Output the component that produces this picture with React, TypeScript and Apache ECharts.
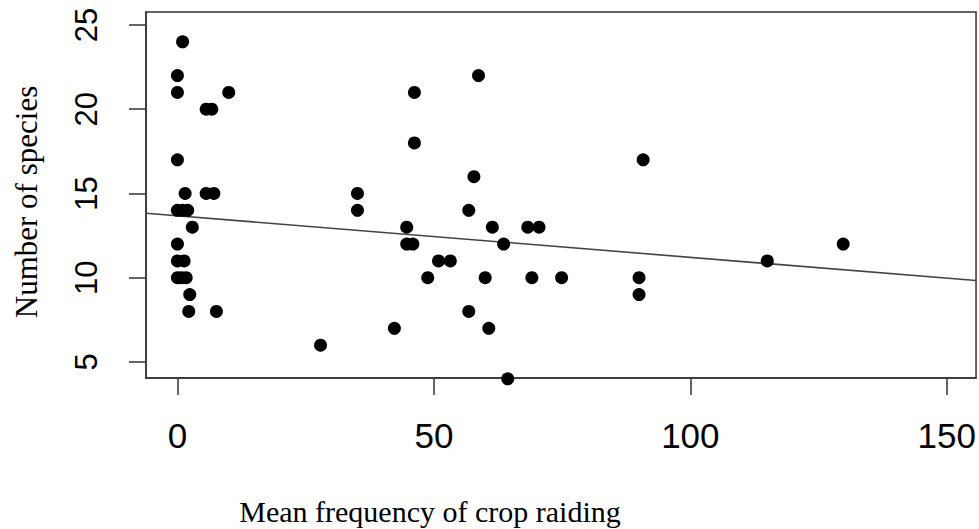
import React, { useEffect, useRef } from "react";
import * as echarts from "echarts";

// Scatter data: mean frequency of crop raiding (x) vs number of species (y)
const raidFreq: number[] = [
  1, 0, 0, 10, 5.6, 6.7, 0, 1.5, 5.6, 7.1,
  0, 1, 2, 2.9, 0, 0, 1.3, 0, 0.8, 1.7,
  2.4, 2.2, 7.6, 27.9, 58.7, 46.2, 46.2, 90.8, 57.8, 35.1,
  35.1, 56.8, 44.7, 61.4, 68.3, 70.5, 44.7, 45.9, 63.6, 50.9,
  53.2, 48.8, 60.0, 69.1, 74.9, 90.0, 90.0, 56.8, 42.3, 60.7,
  64.4, 115.0, 129.8,
];
const speciesCount: number[] = [
  24, 22, 21, 21, 20, 20, 17, 15, 15, 15,
  14, 14, 14, 13, 12, 11, 11, 10, 10, 10,
  9, 8, 8, 6, 22, 21, 18, 17, 16, 15,
  14, 14, 13, 13, 13, 13, 12, 12, 12, 11,
  11, 10, 10, 10, 10, 10, 9, 8, 7, 7,
  4, 11, 12,
];

// Fitted regression line
const FIT_INTERCEPT = 13.68;
const FIT_SLOPE = -0.0247;

const xTicks: number[] = [0, 50, 100, 150];
const yTicks: number[] = [5, 10, 15, 20, 25];

const X_MIN = -6.13;
const X_MAX = 155.7;
const Y_MIN = 4.05;
const Y_MAX = 25.77;

const xTitle = "Mean frequency of crop raiding";
const yTitle = "Number of species";

export default function App() {
  const ref = useRef<HTMLDivElement>(null);

  useEffect(() => {
    if (!ref.current) return;
    const chart = echarts.init(ref.current, undefined, { renderer: "svg" });
    const points = raidFreq.map((x, i) => [x, speciesCount[i]]);
    const fitLine = [
      [X_MIN, FIT_INTERCEPT + FIT_SLOPE * X_MIN],
      [X_MAX, FIT_INTERCEPT + FIT_SLOPE * X_MAX],
    ];
    const axisColor = "#333";
    chart.setOption({
      animation: false,
      backgroundColor: "#fff",
      grid: {
        left: 146,
        top: 12,
        right: 1.3,
        bottom: 151,
        show: true,
        borderColor: axisColor,
        borderWidth: 1.5,
        backgroundColor: "transparent",
      },
      xAxis: {
        type: "value",
        min: X_MIN,
        max: X_MAX,
        splitLine: { show: false },
        axisLine: { show: true, onZero: false, lineStyle: { color: axisColor, width: 1.5 } },
        axisTick: {
          show: true,
          length: 17,
          customValues: xTicks,
          lineStyle: { color: axisColor, width: 1.5 },
        },
        axisLabel: {
          customValues: xTicks,
          color: "#000",
          fontFamily: "Liberation Sans, Arial, sans-serif",
          fontSize: 35,
          margin: 40,
        },
      },
      yAxis: {
        type: "value",
        min: Y_MIN,
        max: Y_MAX,
        splitLine: { show: false },
        axisLine: { show: true, onZero: false, lineStyle: { color: axisColor, width: 1.5 } },
        axisTick: {
          show: true,
          length: 17,
          customValues: yTicks,
          lineStyle: { color: axisColor, width: 1.5 },
        },
        axisLabel: {
          customValues: yTicks,
          rotate: 90,
          color: "#000",
          fontFamily: "Liberation Sans, Arial, sans-serif",
          fontSize: 31,
          margin: 44,
        },
      },
      graphic: [
        {
          type: "text",
          x: 430,
          y: 511,
          style: {
            text: xTitle,
            font: "30px 'Liberation Serif', 'Times New Roman', serif",
            fill: "#000",
            textAlign: "center",
            textVerticalAlign: "middle",
          },
        },
        {
          type: "text",
          x: 26,
          y: 202,
          rotation: Math.PI / 2,
          style: {
            text: yTitle,
            font: "31px 'Liberation Serif', 'Times New Roman', serif",
            fill: "#000",
            textAlign: "center",
            textVerticalAlign: "middle",
          },
        },
      ],
      series: [
        {
          type: "line",
          data: fitLine,
          symbol: "none",
          lineStyle: { color: "#444", width: 1.6 },
          z: 2,
          silent: true,
        },
        {
          type: "scatter",
          data: points,
          symbol: "circle",
          symbolSize: 13,
          itemStyle: { color: "#000", opacity: 1 },
          clip: false,
          z: 5,
        },
      ],
    });
    return () => chart.dispose();
  }, []);

  return (
    <div
      ref={ref}
      style={{ position: "fixed", left: 0, top: 0, width: 979, height: 529, background: "#fff" }}
    />
  );
}
